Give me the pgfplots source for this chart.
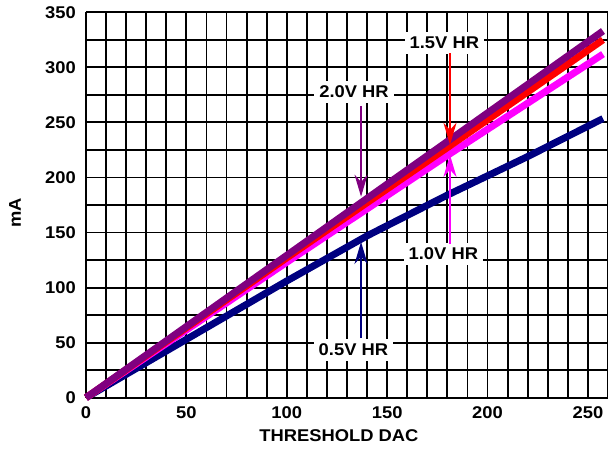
\documentclass[border=0pt]{standalone}
\usepackage{pgfplots}
\pgfplotsset{compat=1.18}
\usepackage{fontspec}
\setmainfont{Liberation Sans}[FakeStretch=1.08]
\usetikzlibrary{arrows.meta}
\definecolor{cpurple}{RGB}{128,0,128}
\definecolor{cred}{RGB}{255,0,0}
\definecolor{cmag}{RGB}{255,0,255}
\definecolor{cnavy}{RGB}{0,0,128}
\begin{document}
\begin{tikzpicture}
\begin{axis}[
  at={(0pt,0pt)}, anchor=south west,
  scale only axis, width=522pt, height=385.4pt,
  xmin=0, xmax=260, ymin=0, ymax=350,
  xtick={0,50,...,250}, ytick={0,50,...,350},
  minor xtick={10,20,30,40,60,70,80,90,110,120,130,140,160,170,180,190,210,220,230,240,260},
  minor ytick={25,75,...,325},
  grid=both,
  major grid style={black, line width=1.9pt},
  minor grid style={black, line width=1.9pt},
  axis x line*=bottom, axis y line*=left,
  axis line style={black, line width=1.9pt, -},
  major tick length=0pt, minor tick length=0pt,
  /pgf/number format/assume math mode=true,
  ticklabel style={font=\fontsize{17}{20}\selectfont\bfseries, inner sep=0pt},
  yticklabel style={anchor=east, xshift=-10pt},
  xticklabel style={anchor=north, yshift=-9pt},
  xlabel={THRESHOLD DAC},
  ylabel={mA},
  label style={font=\fontsize{17}{20}\selectfont\bfseries, inner sep=0pt},
  xlabel style={at={(axis cs:126,0)}, yshift=-37.8pt, anchor=center},
  ylabel style={at={(axis description cs:-0.136,0.48)}, anchor=center},
  clip=false,
]
\addplot[cnavy, line width=7pt] coordinates {(0,0) (50,53) (100,106) (140,147) (180,184) (220,219) (257.5,253.5)};
\addplot[cmag, line width=7pt] coordinates {(0,0) (100,123) (180,220) (257.5,312)};
\addplot[cred, line width=7pt] coordinates {(0,0) (100,127) (181,228.4) (257.5,325)};
\addplot[cpurple, line width=7pt] coordinates {(0,0) (100,129.3) (181,234) (257.5,333)};

\tikzset{lbl/.style={fill=white, inner xsep=5pt, inner ysep=5pt, font=\fontsize{17}{20}\selectfont\bfseries}}
\node[lbl] at (axis cs:133.5,278) {2.0V HR};
\node[lbl] at (axis cs:178.5,322.5) {1.5V HR};
\node[lbl] at (axis cs:178,130.6) {1.0V HR};
\node[lbl] at (axis cs:133.2,43.4) {0.5V HR};
\draw[cpurple, line width=2.6pt, -{Stealth[length=22pt,width=13pt]}] (axis cs:137,265) -- (axis cs:137,182.5);
\draw[cred, line width=2.6pt, -{Stealth[length=22pt,width=13pt]}] (axis cs:181.3,313) -- (axis cs:181.3,229.7);
\draw[cmag, line width=2.6pt, -{Stealth[length=22pt,width=13pt]}] (axis cs:181.3,140) -- (axis cs:181.3,220.5);
\draw[cnavy, line width=2.6pt, -{Stealth[length=22pt,width=13pt]}] (axis cs:137,54) -- (axis cs:137,141.5);
\end{axis}
\pgfresetboundingbox
\path[use as bounding box] (-86pt,-51.3pt) rectangle (522pt,397.7pt);
\end{tikzpicture}
\end{document}
